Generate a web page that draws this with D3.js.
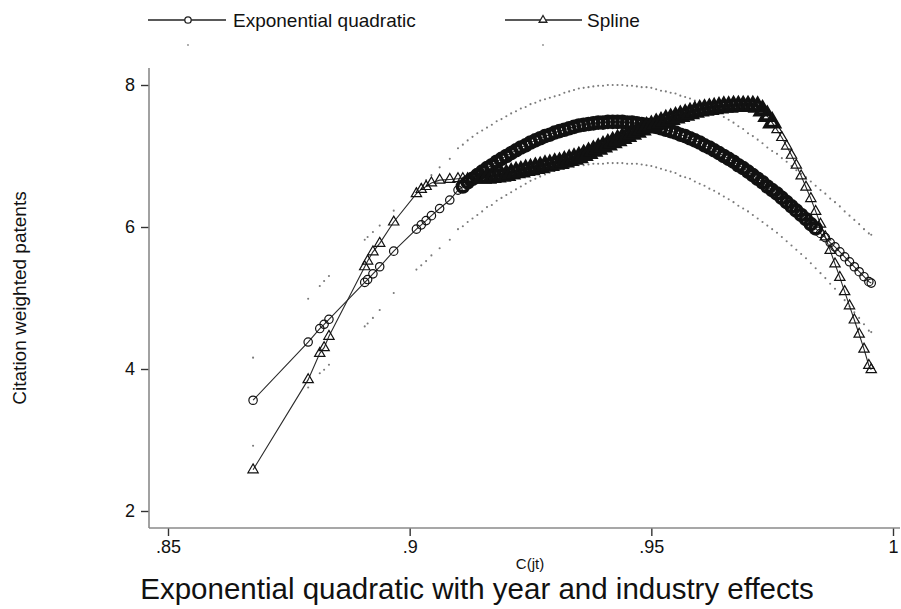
<!DOCTYPE html>
<html>
<head>
<meta charset="utf-8">
<script src="https://cdn.jsdelivr.net/npm/d3@7"></script>
<style>
  body { margin: 0; background: white; }
  text { font-family: Arial, "Liberation Sans", sans-serif; fill: #111; }
</style>
</head>
<body>
<script>

// C(jt) values, shared by both fits and the interval bounds
var xVals = [
  .8676, .8790, .8814, .8823, .8833, .8907, .8913, .8924, .8938, .8967, .9014, .9024, .9034, .9045, .9062, .9083,
  .910, .911, .912, .913, .914, .915, .916, .917, .918, .919,
  .920, .921, .922, .923, .924, .925, .926, .927, .928, .929,
  .930, .931, .932, .933, .934, .935, .936, .937, .938, .939,
  .940, .941, .942, .943, .944, .945, .946, .947, .948, .949,
  .950, .951, .952, .953, .954, .955, .956, .957, .958, .959,
  .960, .961, .962, .963, .964, .965, .966, .967, .968, .969,
  .970, .971, .972, .973, .974, .975, .976, .977, .978, .979,
  .980, .981, .982, .983, .984, .985, .986, .987, .988, .989,
  .990, .991, .992, .993, .994, .995, .9955
];

var expQuad = [
  3.56, 4.38, 4.57, 4.63, 4.70, 5.22, 5.26, 5.34, 5.44, 5.66, 5.97, 6.03, 6.09, 6.16, 6.26, 6.38,
  6.52, 6.57, 6.63, 6.68, 6.73, 6.78, 6.83, 6.87, 6.92, 6.96,
  7.00, 7.04, 7.08, 7.12, 7.15, 7.19, 7.22, 7.25, 7.28, 7.30,
  7.33, 7.35, 7.37, 7.39, 7.41, 7.43, 7.44, 7.45, 7.46, 7.47,
  7.47, 7.48, 7.48, 7.48, 7.48, 7.47, 7.47, 7.46, 7.45, 7.44,
  7.43, 7.41, 7.39, 7.37, 7.35, 7.33, 7.30, 7.28, 7.25, 7.22,
  7.19, 7.15, 7.12, 7.08, 7.04, 7.00, 6.96, 6.92, 6.87, 6.83,
  6.78, 6.73, 6.68, 6.63, 6.57, 6.52, 6.47, 6.41, 6.35, 6.29,
  6.23, 6.17, 6.11, 6.04, 5.98, 5.91, 5.85, 5.78, 5.72, 5.65,
  5.58, 5.51, 5.44, 5.37, 5.30, 5.23, 5.21
];

var spline = [
  2.58, 3.85, 4.22, 4.30, 4.46, 5.44, 5.52, 5.65, 5.77, 6.07, 6.47, 6.53, 6.57, 6.62, 6.66, 6.67,
  6.68, 6.68, 6.68, 6.68, 6.68, 6.69, 6.69, 6.70, 6.71, 6.72,
  6.73, 6.75, 6.77, 6.78, 6.80, 6.81, 6.83, 6.84, 6.86, 6.87,
  6.89, 6.90, 6.92, 6.94, 6.96, 6.98, 7.01, 7.04, 7.07, 7.10,
  7.13, 7.16, 7.19, 7.22, 7.25, 7.28, 7.31, 7.34, 7.37, 7.40,
  7.42, 7.45, 7.47, 7.50, 7.52, 7.54, 7.56, 7.58, 7.60, 7.62,
  7.64, 7.65, 7.66, 7.67, 7.68, 7.69, 7.69, 7.70, 7.70, 7.70,
  7.70, 7.70, 7.69, 7.64, 7.56, 7.47, 7.37, 7.26, 7.14, 7.01,
  6.87, 6.72, 6.56, 6.40, 6.22, 6.04, 5.86, 5.67, 5.48, 5.29,
  5.09, 4.89, 4.69, 4.49, 4.28, 4.05, 3.99
];

var ciUpper = [
  4.16, 4.99, 5.17, 5.24, 5.31, 5.82, 5.86, 5.93, 6.02, 6.23, 6.54, 6.60, 6.66, 6.73, 6.84, 6.96,
  7.11, 7.16, 7.22, 7.27, 7.32, 7.36, 7.40, 7.44, 7.49, 7.52,
  7.56, 7.60, 7.63, 7.67, 7.69, 7.73, 7.75, 7.78, 7.80, 7.82,
  7.84, 7.86, 7.89, 7.91, 7.93, 7.95, 7.96, 7.97, 7.98, 7.99,
  7.99, 8.00, 8.00, 8.00, 8.00, 7.99, 7.99, 7.98, 7.97, 7.97,
  7.96, 7.94, 7.92, 7.91, 7.89, 7.88, 7.85, 7.83, 7.81, 7.78,
  7.75, 7.71, 7.68, 7.63, 7.60, 7.55, 7.51, 7.47, 7.42, 7.38,
  7.32, 7.28, 7.23, 7.18, 7.12, 7.07, 7.03, 6.97, 6.92, 6.86,
  6.80, 6.75, 6.70, 6.64, 6.58, 6.52, 6.47, 6.40, 6.35, 6.29,
  6.22, 6.16, 6.10, 6.04, 5.97, 5.91, 5.89
];

var ciLower = [
  2.92, 3.74, 3.94, 3.99, 4.06, 4.60, 4.64, 4.72, 4.83, 5.07, 5.40, 5.46, 5.52, 5.60, 5.70, 5.82,
  5.97, 6.01, 6.07, 6.12, 6.17, 6.22, 6.28, 6.31, 6.37, 6.41,
  6.45, 6.49, 6.53, 6.57, 6.61, 6.65, 6.68, 6.71, 6.74, 6.77,
  6.79, 6.81, 6.82, 6.84, 6.85, 6.87, 6.87, 6.88, 6.89, 6.89,
  6.89, 6.90, 6.90, 6.90, 6.90, 6.89, 6.89, 6.89, 6.88, 6.87,
  6.86, 6.84, 6.82, 6.80, 6.78, 6.76, 6.72, 6.70, 6.68, 6.64,
  6.61, 6.58, 6.54, 6.51, 6.47, 6.43, 6.39, 6.35, 6.30, 6.26,
  6.22, 6.17, 6.12, 6.07, 6.02, 5.97, 5.92, 5.86, 5.80, 5.74,
  5.68, 5.62, 5.56, 5.49, 5.42, 5.35, 5.28, 5.20, 5.13, 5.05,
  4.97, 4.88, 4.80, 4.72, 4.63, 4.54, 4.52
];

var xTicks = [.85, .9, .95, 1];
var xTickLabels = [".85", ".9", ".95", "1"];
var yTicks = [2, 4, 6, 8];
var legendLabels = ["Exponential quadratic", "Spline"];

var svg_width = 901, svg_height = 609;
var axis_x = 149, axis_y = 528;
var svg, xScale, yScale;


function start()
{
  svg = d3.select("body").append("svg")
          .attr("width", svg_width)
          .attr("height", svg_height);

  svg.append("rect").attr("width", svg_width).attr("height", svg_height).style("fill", "white");

  setupScales();
  drawAxes();
  drawSeries();
  drawLegend();
  drawTexts();
}


function setupScales()
{
  xScale = d3.scaleLinear()
             .domain([.85, 1])
             .range([168, 893]);

  yScale = d3.scaleLinear()
             .domain([2, 8])
             .range([511, 85]);
}


function drawAxes()
{
  var xAxis = d3.axisBottom(xScale)
                .tickValues(xTicks)
                .tickFormat(function(d, i) { return xTickLabels[i]; })
                .tickSize(8)
                .tickPadding(4);

  var yAxis = d3.axisLeft(yScale)
                .tickValues(yTicks)
                .tickFormat(d3.format("d"))
                .tickSize(8)
                .tickPadding(6);

  var gx = svg.append("g")
              .attr("transform", "translate(0," + axis_y + ")")
              .call(xAxis);

  var gy = svg.append("g")
              .attr("transform", "translate(" + axis_x + ",0)")
              .call(yAxis);

  // axis lines are longer than the scale ranges, so drop the domain paths
  gx.select(".domain").remove();
  gy.select(".domain").remove();

  gx.append("line").attr("x1", axis_x).attr("x2", 900).attr("y1", 0).attr("y2", 0)
    .style("stroke", "#8a8a8a").style("stroke-width", 1.6);
  gy.append("line").attr("x1", 0).attr("x2", 0).attr("y1", 68).attr("y2", axis_y)
    .style("stroke", "#8a8a8a").style("stroke-width", 1.6);

  svg.selectAll(".tick line").style("stroke", "#333").style("stroke-width", 1.4);
  svg.selectAll(".tick text")
     .style("font-family", "Arial, 'Liberation Sans', sans-serif")
     .style("font-size", "18px")
     .style("fill", "#111");
}


function drawSeries()
{
  var rows = xVals.map(function(x, i)
  {
    return { x: x, eq: expQuad[i], sp: spline[i], up: ciUpper[i], lo: ciLower[i] };
  });

  // confidence bounds, tiny grey dots
  var ci = svg.append("g").attr("id", "ci_group");
  ["up", "lo"].forEach(function(key)
  {
    ci.selectAll("circle." + key)
      .data(rows)
      .enter().append("circle")
      .attr("class", key)
      .attr("cx", function(d) { return xScale(d.x); })
      .attr("cy", function(d) { return yScale(d[key]); })
      .attr("r", 1.05)
      .style("fill", "#7a7a7a");
  });

  var line = function(key)
  {
    return d3.line()
             .x(function(d) { return xScale(d.x); })
             .y(function(d) { return yScale(d[key]); });
  };

  svg.append("path").datum(rows)
     .attr("d", line("eq"))
     .style("fill", "none").style("stroke", "#2a2a2a").style("stroke-width", 1.1);

  svg.append("path").datum(rows)
     .attr("d", line("sp"))
     .style("fill", "none").style("stroke", "#2a2a2a").style("stroke-width", 1.1);

  // where the observations crowd together the markers merge into a black band
  var crowdedEq = function(d) { return d.x >= .911 && d.x <= .984; };
  var crowdedSp = function(d) { return d.x >= .915 && d.x <= .975; };

  svg.append("g").selectAll("circle")
     .data(rows)
     .enter().append("circle")
     .attr("cx", function(d) { return xScale(d.x); })
     .attr("cy", function(d) { return yScale(d.eq); })
     .attr("r", function(d) { return crowdedEq(d) ? 5.4 : 4.2; })
     .style("fill", "none")
     .style("stroke", "#111")
     .style("stroke-width", function(d) { return crowdedEq(d) ? 3.8 : 1.2; });

  svg.append("g").selectAll("path")
     .data(rows)
     .enter().append("path")
     .attr("d", function(d) { return d3.symbol().type(d3.symbolTriangle).size(crowdedSp(d) ? 80 : 46)(); })
     .attr("transform", function(d) { return "translate(" + xScale(d.x) + "," + yScale(d.sp) + ")"; })
     .style("fill", "none")
     .style("stroke", "#111")
     .style("stroke-width", function(d) { return crowdedSp(d) ? 3.8 : 1.2; });
}


function drawLegend()
{
  var legend = svg.append("g").attr("id", "legend");
  var keys = [
    { x1: 148, x2: 226, mx: 188, tx: 233 },
    { x1: 505, x2: 582, mx: 543, tx: 587 }
  ];

  keys.forEach(function(k, i)
  {
    legend.append("line").attr("x1", k.x1).attr("x2", k.x2).attr("y1", 20).attr("y2", 20)
          .style("stroke", "#222").style("stroke-width", 1.3);

    if (i == 0)
      legend.append("circle").attr("cx", k.mx).attr("cy", 20).attr("r", 3.2)
            .style("fill", "white").style("stroke", "#222").style("stroke-width", 1.3);
    else
      legend.append("path").attr("d", d3.symbol().type(d3.symbolTriangle).size(26))
            .attr("transform", "translate(" + k.mx + ",20)")
            .style("fill", "white").style("stroke", "#222").style("stroke-width", 1.3);

    legend.append("text").attr("x", k.tx).attr("y", 27)
          .style("font-size", "19px")
          .text(legendLabels[i]);

    // unlabelled keys for the interval bounds
    legend.append("circle").attr("cx", k.mx).attr("cy", 45).attr("r", 0.9).style("fill", "#8c8c8c");
  });
}


function drawTexts()
{
  svg.append("text")
     .attr("transform", "translate(26,298) rotate(-90)")
     .attr("text-anchor", "middle")
     .style("font-size", "19px")
     .text("Citation weighted patents");

  svg.append("text")
     .attr("x", 530).attr("y", 569)
     .attr("text-anchor", "middle")
     .style("font-size", "15px")
     .text("C(jt)");

  svg.append("text")
     .attr("x", 477).attr("y", 599)
     .attr("text-anchor", "middle")
     .style("font-size", "29.5px")
     .text("Exponential quadratic with year and industry effects");
}


start();

</script>
</body>
</html>
